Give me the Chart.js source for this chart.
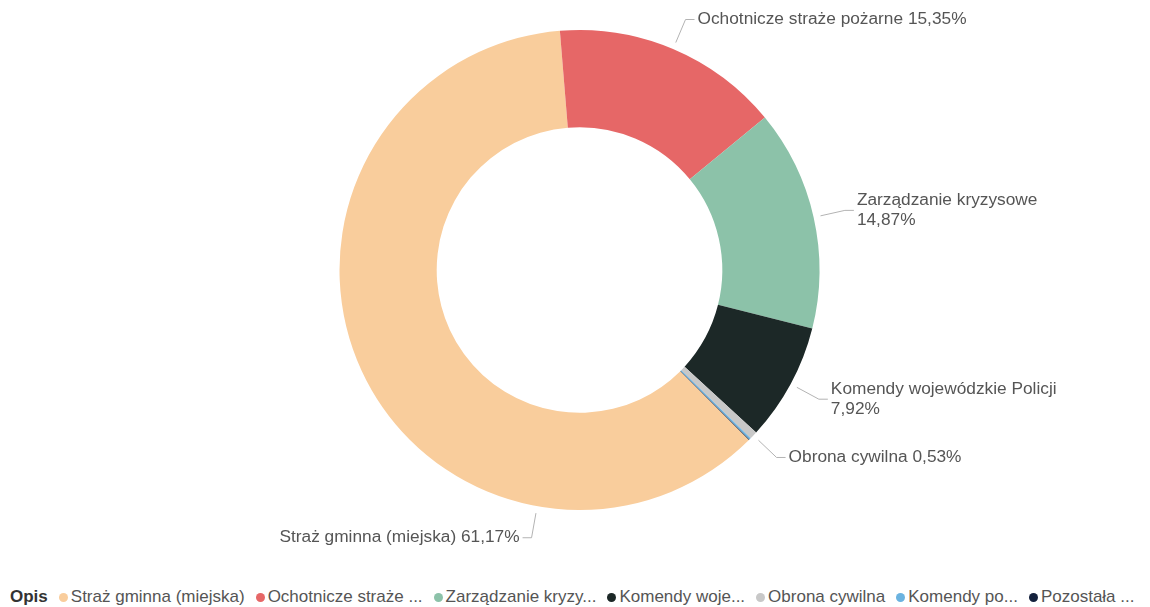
<!DOCTYPE html>
<html lang="pl">
<head>
    <meta charset="UTF-8">
    <title>Bezpieczeństwo publiczne - struktura wydatków</title>
    <script src="https://cdn.jsdelivr.net/npm/chart.js"></script>
    <style>
        body {
            margin: 0;
            background: #fff;
            font-family: 'Liberation Sans', Arial, sans-serif;
            width: 1150px;
            height: 607px;
            overflow: hidden;
            position: relative;
        }

        #donut {
            position: absolute;
            left: 0;
            top: 0;
        }

        .legend {
            position: absolute;
            left: 10px;
            top: 587px;
            display: flex;
            align-items: center;
            white-space: nowrap;
            font-size: 17px;
            color: #555;
        }

        .legend .title {
            font-weight: bold;
            color: #333;
            margin-right: 11px;
        }

        .legend .item {
            display: flex;
            align-items: center;
            margin-right: 11px;
        }

        .legend .dot {
            width: 9px;
            height: 9px;
            border-radius: 50%;
            margin-right: 3px;
        }
    </style>
</head>
<body>

    <canvas id="donut" width="1150" height="580"></canvas>
    <div class="legend" id="legend"></div>

    <script>
        // dane: udział rozdziałów w wydatkach (%)
        const categories = [
            'Straż gminna (miejska)',
            'Ochotnicze straże pożarne',
            'Zarządzanie kryzysowe',
            'Komendy wojewódzkie Policji',
            'Obrona cywilna',
            'Komendy powiatowe Policji',
            'Pozostała działalność'
        ];
        const shares = [61.17, 15.35, 14.87, 7.92, 0.53, 0.12, 0.04];
        const legendText = [
            'Straż gminna (miejska)',
            'Ochotnicze straże ...',
            'Zarządzanie kryzy...',
            'Komendy woje...',
            'Obrona cywilna',
            'Komendy po...',
            'Pozostała ...'
        ];
        const colors = ['#F9CD9C', '#E66767', '#8CC2A9', '#1C2827', '#C8C8C8', '#6BB3E0', '#14213D'];

        const fmtPct = v => v.toFixed(2).replace('.', ',') + '%';

        // etykiety na zewnątrz z liniami
        const outerLabels = {
            id: 'outerLabels',
            afterDatasetsDraw(chart, args, opts) {
                const ctx = chart.ctx;
                const meta = chart.getDatasetMeta(0);
                ctx.save();
                ctx.font = opts.font;
                ctx.fillStyle = opts.color;
                ctx.strokeStyle = opts.lineColor;
                ctx.lineWidth = 1;
                ctx.textBaseline = 'middle';
                meta.data.forEach((arc, i) => {
                    if (shares[i] < opts.minShare) return;
                    const p = arc.getProps(['x', 'y', 'startAngle', 'endAngle', 'outerRadius'], true);
                    const f = opts.anchorAt[i] !== undefined ? opts.anchorAt[i] : 0.5;
                    const a = p.startAngle + (p.endAngle - p.startAngle) * f;
                    const cos = Math.cos(a), sin = Math.sin(a);
                    const x0 = p.x + cos * (p.outerRadius + 7);
                    const y0 = p.y + sin * (p.outerRadius + 7);
                    const x1 = p.x + cos * (p.outerRadius + 32);
                    const y1 = p.y + sin * (p.outerRadius + 32);
                    const dir = cos >= 0 ? 1 : -1;
                    const x2 = x1 + dir * 9;

                    ctx.beginPath();
                    ctx.moveTo(x0, y0);
                    ctx.lineTo(x1, y1);
                    ctx.lineTo(x2, y1);
                    ctx.stroke();

                    const pct = fmtPct(shares[i]);
                    const full = categories[i] + ' ' + pct;
                    const tx = x2 + dir * 3;
                    let lines = [full];
                    if (dir > 0 && tx + ctx.measureText(full).width > chart.width - opts.rightGap) {
                        lines = [categories[i], pct];
                    }
                    ctx.textAlign = dir > 0 ? 'left' : 'right';
                    lines.forEach((ln, k) => {
                        ctx.fillText(ln, tx, y1 + (k - (lines.length - 1) / 2) * opts.lineHeight);
                    });
                });
                ctx.restore();
            }
        };

        const donut = new Chart(document.getElementById('donut'), {
            type: 'doughnut',
            data: {
                labels: categories,
                datasets: [{
                    data: shares,
                    backgroundColor: colors,
                    borderWidth: 0,
                    hoverOffset: 0
                }]
            },
            options: {
                responsive: false,
                animation: false,
                rotation: 135.1,
                cutout: '59.5%',
                layout: {
                    padding: { top: 30, bottom: 70, left: 9, right: 0 }
                },
                plugins: {
                    legend: { display: false },
                    tooltip: { enabled: false },
                    outerLabels: {
                        font: '17.3px "Liberation Sans", Arial, sans-serif',
                        color: '#555',
                        lineColor: '#b3b3b3',
                        lineHeight: 20,
                        minShare: 0.5,
                        rightGap: 90,
                        anchorAt: { 0: 0.25 }
                    }
                }
            },
            plugins: [outerLabels]
        });

        // legenda w HTML
        const legend = document.getElementById('legend');
        legend.innerHTML = '<span class="title">Opis</span>' + legendText.map((t, i) =>
            `<span class="item"><span class="dot" style="background:${colors[i]}"></span>${t}</span>`
        ).join('');
    </script>

</body>
</html>
